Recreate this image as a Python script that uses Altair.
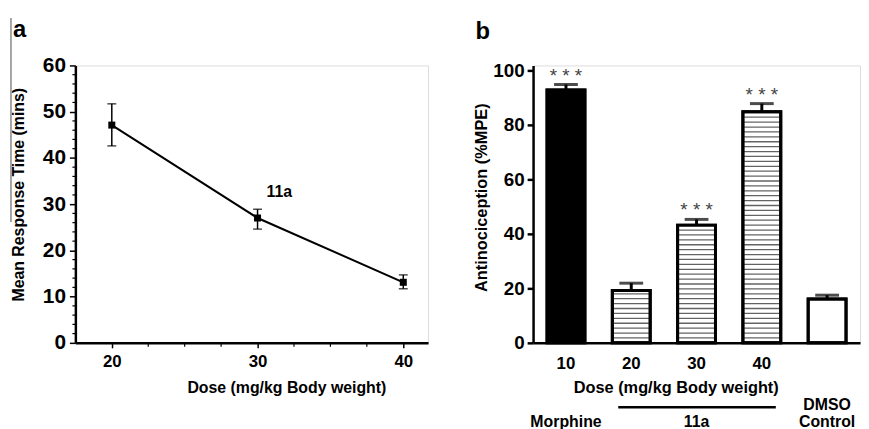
import altair as alt
import pandas as pd

FONT = "Liberation Sans"

# ---------- panel a data ----------
dose_a = [20, 30, 40]
mean_a = [47.1, 27.0, 13.1]
lo_a = [42.6, 24.6, 11.7]
hi_a = [51.7, 28.9, 14.7]
x_ticks_a = [20, 30, 40]
x_minor_a = [22.5, 25, 27.5, 32.5, 35, 37.5]
y_ticks_a = [0, 10, 20, 30, 40, 50, 60]
y_minor_a = [2, 4, 6, 8, 12, 14, 16, 18, 22, 24, 26, 28, 32, 34, 36, 38,
             42, 44, 46, 48, 52, 54, 56, 58]

# ---------- panel b data ----------
cats_b = ["Morphine 10", "11a 20", "11a 30", "11a 40", "DMSO"]
tick_labels_b = ["10", "20", "30", "40", ""]
vals_b = [92.8, 19.2, 43.2, 84.8, 16.1]
err_b = [94.8, 21.9, 45.3, 87.8, 17.5]
fills_b = ["black", "white", "white", "white", "white"]
striped_b = [False, True, True, True, False]
stars_b = ["* * *", "", "* * *", "* * *", ""]
y_ticks_b = [0, 20, 40, 60, 80, 100]

df_a = pd.DataFrame({"dose": dose_a, "mean": mean_a, "lo": lo_a, "hi": hi_a})
df_b = pd.DataFrame({"cat": cats_b, "val": vals_b, "err": err_b,
                     "fill": fills_b, "stars": stars_b})

# stripe pattern positions for striped bars
stripe_rows = []
for c, v, s in zip(cats_b, vals_b, striped_b):
    if s:
        y = 1.8
        while y < v - 0.8:
            stripe_rows.append({"cat": c, "sy": y})
            y += 1.8
df_stripes = pd.DataFrame(stripe_rows)

W_A, H = 356, 280
W_B = 330

# ---------- panel a ----------
xs_a = alt.Scale(domain=[17.5, 41.7], nice=False, zero=False)
ys_a = alt.Scale(domain=[0, 60], nice=False)

axis_x_a = alt.Axis(values=x_ticks_a, format="d", grid=False,
                    labelFont=FONT, labelFontSize=17, labelFontWeight="bold",
                    labelColor="black", labelPadding=6,
                    tickSize=5, tickWidth=1.5, tickColor="black",
                    domainWidth=2.5, domainColor="black",
                    title="Dose (mg/kg Body weight)", titleFont=FONT,
                    titleFontSize=16, titleFontWeight="bold", titleColor="black",
                    titleX=213, titleAlign="center", titlePadding=10)
axis_y_a = alt.Axis(values=y_ticks_a, format="d", grid=False,
                    labelFont=FONT, labelFontSize=21, labelFontWeight="bold",
                    labelColor="black", labelPadding=4,
                    tickSize=6, tickWidth=1.5, tickColor="black",
                    domainWidth=2.5, domainColor="black",
                    title="Mean Response Time (mins)", titleFont=FONT,
                    titleFontSize=16, titleFontWeight="bold", titleColor="black",
                    titleY=130, titlePadding=16)

base_a = alt.Chart(df_a)
line_a = base_a.mark_line(color="black", strokeWidth=2).encode(
    x=alt.X("dose:Q", scale=xs_a, axis=axis_x_a),
    y=alt.Y("mean:Q", scale=ys_a, axis=axis_y_a),
)
pts_a = base_a.mark_square(size=50, color="black", opacity=1).encode(
    x=alt.X("dose:Q", scale=xs_a), y=alt.Y("mean:Q", scale=ys_a))
err_a = base_a.mark_rule(color="black", strokeWidth=1.5).encode(
    x=alt.X("dose:Q", scale=xs_a), y=alt.Y("lo:Q", scale=ys_a), y2="hi:Q")
cap_lo_a = base_a.mark_tick(color="black", size=9, thickness=1.5, orient="horizontal").encode(
    x=alt.X("dose:Q", scale=xs_a), y=alt.Y("lo:Q", scale=ys_a))
cap_hi_a = base_a.mark_tick(color="black", size=9, thickness=1.5, orient="horizontal").encode(
    x=alt.X("dose:Q", scale=xs_a), y=alt.Y("hi:Q", scale=ys_a))
minor_x = alt.Chart(pd.DataFrame({"mx": x_minor_a})).mark_rule(
    color="black", strokeWidth=1.2).encode(
    x=alt.X("mx:Q", scale=xs_a), y=alt.value(H), y2=alt.value(H + 4))
minor_y = alt.Chart(pd.DataFrame({"my": y_minor_a})).mark_rule(
    color="black", strokeWidth=1.2).encode(
    y=alt.Y("my:Q", scale=ys_a), x=alt.value(0), x2=alt.value(-3))
label_a = alt.Chart(pd.DataFrame({"t": ["11a"], "lx": [31.5], "ly": [32.6]})).mark_text(
    font=FONT, fontSize=16, fontWeight="bold", color="black").encode(
    x=alt.X("lx:Q", scale=xs_a), y=alt.Y("ly:Q", scale=ys_a), text="t:N")
edge_a = alt.Chart(pd.DataFrame({"k": [0]})).mark_rule(color="#888888", strokeWidth=1.5).encode(
    x=alt.value(-65), y=alt.value(-48), y2=alt.value(158))
letter_a = alt.Chart(pd.DataFrame({"t": ["a"]})).mark_text(
    font=FONT, fontSize=24, fontWeight="bold", color="black", align="left",
    baseline="alphabetic").encode(x=alt.value(-63), y=alt.value(-29), text="t:N")

panel_a = alt.layer(line_a, err_a, cap_lo_a, cap_hi_a, pts_a, minor_x, minor_y,
                    label_a, edge_a, letter_a).properties(width=W_A, height=H)

# ---------- panel b ----------
xs_b = alt.Scale(domain=cats_b, paddingInner=0.42, paddingOuter=0.214)
ys_b = alt.Scale(domain=[0, 101.8], nice=False)

label_expr = "{" + ",".join(f"'{c}':'{l}'" for c, l in zip(cats_b, tick_labels_b)) + "}[datum.value]"
axis_x_b = alt.Axis(labelExpr=label_expr, labelAngle=0, ticks=False, grid=False,
                    labelFont=FONT, labelFontSize=17, labelFontWeight="bold",
                    labelColor="black", labelPadding=13,
                    domainWidth=2.5, domainColor="black",
                    title="Dose (mg/kg Body weight)", titleFont=FONT,
                    titleFontSize=16.5, titleFontWeight="bold", titleColor="black",
                    titleX=144, titleAlign="center", titlePadding=8)
axis_y_b = alt.Axis(values=y_ticks_b, format="d", grid=False,
                    labelFont=FONT, labelFontSize=19, labelFontWeight="bold",
                    labelColor="black", labelPadding=3,
                    tickSize=6, tickWidth=2.5, tickColor="black",
                    domainWidth=2.5, domainColor="black",
                    title="Antinociception (%MPE)", titleFont=FONT,
                    titleFontSize=16.5, titleFontWeight="bold", titleColor="black",
                    titleY=133, titlePadding=3)

base_b = alt.Chart(df_b)
bars_b = base_b.mark_bar(stroke="black", strokeWidth=3, opacity=1).encode(
    x=alt.X("cat:N", scale=xs_b, axis=axis_x_b, sort=cats_b),
    y=alt.Y("val:Q", scale=ys_b, axis=axis_y_b),
    fill=alt.Fill("fill:N", scale=None),
)
stripes_b = alt.Chart(df_stripes).mark_tick(color="#222222", size=36, thickness=1.3,
                                            orient="horizontal").encode(
    x=alt.X("cat:N", scale=xs_b, sort=cats_b), y=alt.Y("sy:Q", scale=ys_b))
outline_b = base_b.mark_bar(stroke="black", strokeWidth=3, fillOpacity=0).encode(
    x=alt.X("cat:N", scale=xs_b, sort=cats_b), y=alt.Y("val:Q", scale=ys_b))
errl_b = base_b.mark_rule(color="black", strokeWidth=3).encode(
    x=alt.X("cat:N", scale=xs_b, sort=cats_b), y=alt.Y("val:Q", scale=ys_b), y2="err:Q")
cap_b = base_b.mark_tick(color="black", size=24, thickness=3, orient="horizontal").encode(
    x=alt.X("cat:N", scale=xs_b, sort=cats_b), y=alt.Y("err:Q", scale=ys_b))
stars = base_b.mark_text(font=FONT, fontSize=19, color="#444444", baseline="middle",
                         dy=-9).encode(
    x=alt.X("cat:N", scale=xs_b, sort=cats_b), y=alt.Y("err:Q", scale=ys_b), text="stars:N")

group_low = pd.DataFrame({"cat": ["Morphine 10", "11a 30", "DMSO"],
                          "g": ["Morphine", "11a", "Control"]})
group_high = pd.DataFrame({"cat": ["DMSO"], "g": ["DMSO"]})
groups_low = alt.Chart(group_low).mark_text(font=FONT, fontSize=16, fontWeight="bold",
                                            color="black", baseline="middle").encode(
    x=alt.X("cat:N", scale=xs_b, sort=cats_b), y=alt.value(H + 80), text="g:N")
groups_high = alt.Chart(group_high).mark_text(font=FONT, fontSize=16, fontWeight="bold",
                                              color="black", baseline="middle").encode(
    x=alt.X("cat:N", scale=xs_b, sort=cats_b), y=alt.value(H + 63), text="g:N")
bracket_b = alt.Chart(pd.DataFrame({"k": [0]})).mark_rule(color="black", strokeWidth=2.5).encode(
    x=alt.value(86), x2=alt.value(245), y=alt.value(H + 65))
letter_b = alt.Chart(pd.DataFrame({"t": ["b"]})).mark_text(
    font=FONT, fontSize=24, fontWeight="bold", color="black", align="left",
    baseline="alphabetic").encode(x=alt.value(-58), y=alt.value(-27), text="t:N")

panel_b = alt.layer(bars_b, stripes_b, outline_b, errl_b, cap_b, stars,
                    groups_low, groups_high, bracket_b, letter_b).properties(width=W_B, height=H)

chart = alt.hconcat(panel_a, panel_b, spacing=106, bounds="flush").properties(
    padding={"left": 1, "top": 6, "right": 0, "bottom": 0}
).configure_view(stroke=None).configure(background="white")

chart.save("out.html", embed_options={"renderer": "svg", "actions": False})
